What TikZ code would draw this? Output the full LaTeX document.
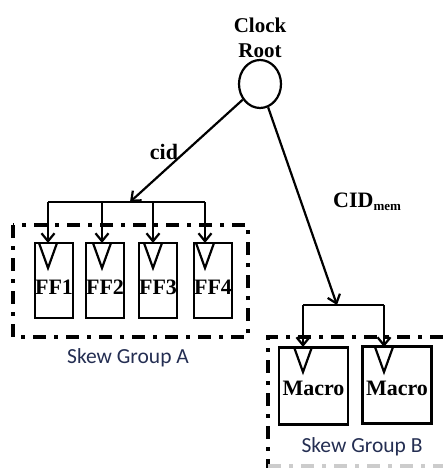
\documentclass[tikz,border=0pt]{standalone}
\usepackage{fontspec}
\setmainfont{Liberation Serif}
\newfontfamily\skewfont{Carlito}
\usetikzlibrary{arrows.meta,shapes.geometric}
\definecolor{skewblue}{rgb}{0.14,0.18,0.32}
\begin{document}
\begin{tikzpicture}[x=1pt,y=-1pt,
  wire/.style={line width=2.2pt},
  arr/.style={wire,-{Straight Barb[length=8pt,width=13pt]}},
  ffbox/.style={draw,line width=2.2pt,minimum width=38pt,minimum height=75pt,inner sep=0pt},
  macbox/.style={draw,line width=2.2pt,minimum width=69pt,minimum height=77pt,inner sep=0pt},
  lbl/.style={font=\fontsize{22}{26}\selectfont\bfseries,inner sep=0pt},
  skewlbl/.style={font=\fontsize{21.5}{24}\selectfont\skewfont,text=skewblue,inner sep=0pt},
  grp/.style={line width=3.2pt,dash pattern=on 13pt off 8pt on 4pt off 8pt},
  clk/.style={line width=2.2pt}]
\useasboundingbox (0,0) rectangle (443,468);
% clock root
\node[draw,ellipse,line width=2.2pt,minimum width=42pt,minimum height=48pt,inner sep=0pt] (root) at (260,84) {};
\node[font=\fontsize{21}{25}\selectfont\bfseries,align=center,inner sep=0pt] (rootlbl) at (260,38) {Clock\\Root};
% group A
\draw[grp] (13,225) rectangle (248,337);
\node[ffbox] (ff1) at (54,280.5) {};
\node[ffbox] (ff2) at (105,280.5) {};
\node[ffbox] (ff3) at (158,280.5) {};
\node[ffbox] (ff4) at (213,280.5) {};
\node[lbl] at (54,287) {FF1};
\node[lbl] at (105,287) {FF2};
\node[lbl] at (158,287) {FF3};
\node[lbl] at (213,287) {FF4};
\foreach \x [count=\i] in {48,102,153,205}{
  \coordinate (ta\i) at (\x,243);
  \draw[clk] (\x-9,243) -- (\x,268) -- (\x+9,243);
}
\coordinate (ba1) at (48,202);
\coordinate (ba4) at (205,202);
\coordinate (bamid) at (130,202);
\draw[wire] (ba1) -- (ba4);
\foreach \x [count=\i] in {48,102,153,205}{
  \draw[arr] (\x,202) -- (ta\i);
}
\draw[arr] (root) -- (bamid);
\node[lbl] (cid) at (164,152) {cid};
\node[skewlbl] (ska) at (128,358) {Skew Group A};
% group B
\draw[grp] (443,337) -- (268,337) -- (268,468);
\draw[grp,draw=gray!40] (268,466) -- (443,466);
\node[macbox] (m1) at (313.5,386) {};
\node[macbox] (m2) at (397,385) {};
\node[lbl] at (313.5,388) {Macro};
\node[lbl] at (397,388) {Macro};
\foreach \x [count=\i] in {303,384}{
  \coordinate (tb\i) at (\x,347);
  \draw[clk] (\x-9,347) -- (\x,372) -- (\x+9,347);
}
\coordinate (bb1) at (303,305);
\coordinate (bb2) at (384,305);
\coordinate (bbmid) at (337,305);
\draw[wire] (bb1) -- (bb2);
\draw[arr] (bb1) -- (tb1);
\draw[arr] (bb2) -- (tb2);
\draw[arr] (root) -- (bbmid);
\node[lbl,anchor=west] (cidmem) at (333,202) {CID\textsubscript{\fontsize{13}{13}\selectfont mem}};
\node[skewlbl] (skb) at (362,447) {Skew Group B};
\end{tikzpicture}
\end{document}
